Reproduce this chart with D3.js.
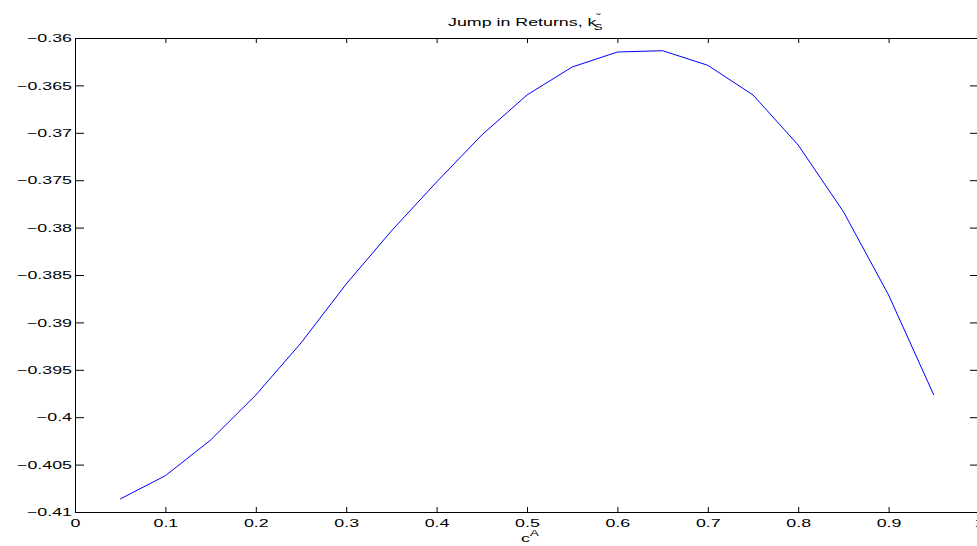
<!DOCTYPE html>
<html>
<head>
<meta charset="utf-8">
<script src="https://cdn.jsdelivr.net/npm/d3@7"></script>
<style>
  html, body { margin: 0; padding: 0; background: #fff; overflow: hidden; }
  svg { display: block; }
  text { font-family: "Liberation Sans", Arial, Helvetica, sans-serif; fill: #000; }
</style>
</head>
<body>
<svg id="chart" width="977" height="546"></svg>
<script>
// ---- data ----
const cA = [0.05, 0.10, 0.15, 0.20, 0.25, 0.30, 0.35, 0.40, 0.45, 0.50,
            0.55, 0.60, 0.65, 0.70, 0.75, 0.80, 0.85, 0.90, 0.95];
const jumpReturns = [-0.40863, -0.40617, -0.40241, -0.39766, -0.39217, -0.38595, -0.38035, -0.37519, -0.37023, -0.36601,
                     -0.36306, -0.36148, -0.36134, -0.36288, -0.36601, -0.37129, -0.37832, -0.38711, -0.39766];
const xTicks = [0, 0.1, 0.2, 0.3, 0.4, 0.5, 0.6, 0.7, 0.8, 0.9, 1];
const xTickLabels = ["0", "0.1", "0.2", "0.3", "0.4", "0.5", "0.6", "0.7", "0.8", "0.9", "1"];
const yTicks = [-0.41, -0.405, -0.40, -0.395, -0.39, -0.385, -0.38, -0.375, -0.37, -0.365, -0.36];
const yTickLabels = ["\u22120.41", "\u22120.405", "\u22120.4", "\u22120.395", "\u22120.39", "\u22120.385",
                     "\u22120.38", "\u22120.375", "\u22120.37", "\u22120.365", "\u22120.36"];
const titleText = "Jump in Returns, k";
const xLabelText = "c";

// ---- layout ----
const L = 75, R = 979, T = 38, B = 512;
const SX = 1.55;          // horizontal stretch of the lettering
const FS = 11.5;

const svg = d3.select("#chart");
const x = d3.scaleLinear().domain([0, 1]).range([L, R]);
const y = d3.scaleLinear().domain([-0.41, -0.36]).range([B, T]);

// data line
svg.append("path")
  .datum(cA.map((c, i) => [c, jumpReturns[i]]))
  .attr("fill", "none")
  .attr("stroke", "#0000ff")
  .attr("stroke-width", 1)
  .attr("d", d3.line().x(d => x(d[0])).y(d => y(d[1])));

// axes
const axB = svg.append("g").attr("transform", `translate(0,${B})`)
  .call(d3.axisBottom(x).tickValues(xTicks).tickFormat((d, i) => xTickLabels[i])
        .tickSizeInner(-5).tickSizeOuter(0).tickPadding(7));
const axT = svg.append("g").attr("transform", `translate(0,${T})`)
  .call(d3.axisTop(x).tickValues(xTicks).tickFormat("").tickSizeInner(-5).tickSizeOuter(0));
const axL = svg.append("g").attr("transform", `translate(${L},0)`)
  .call(d3.axisLeft(y).tickValues(yTicks).tickFormat((d, i) => yTickLabels[i])
        .tickSizeInner(-9).tickSizeOuter(0).tickPadding(3));
const axR = svg.append("g").attr("transform", `translate(${R},0)`)
  .call(d3.axisRight(y).tickValues(yTicks).tickFormat("").tickSizeInner(-9).tickSizeOuter(0));

[axB, axT, axL, axR].forEach(g => {
  g.select(".domain").attr("stroke", "#000").attr("stroke-width", 1);
  g.selectAll(".tick line").attr("stroke", "#000").attr("stroke-width", 1);
  g.attr("font-family", null).attr("font-size", null);
  g.selectAll("text").attr("font-size", FS).attr("fill", "#000");
});
axB.selectAll(".tick text").attr("transform", `scale(${SX},1)`);
axL.selectAll(".tick text").attr("x", -3 / SX).attr("transform", `scale(${SX},1)`);

// title
const title = svg.append("text")
  .attr("transform", `translate(448,26) scale(${SX},1)`)
  .attr("font-size", FS);
title.append("tspan").text(titleText);
title.append("tspan").attr("font-size", 8.5).attr("dy", -6).text("\u02D8");
title.append("tspan").attr("font-size", 8.5).attr("dx", -4.6).attr("dy", 10).text("S");

// x label
const xl = svg.append("text")
  .attr("transform", `translate(521,542) scale(${SX},1)`)
  .attr("font-size", FS);
xl.append("tspan").text(xLabelText);
xl.append("tspan").attr("font-size", 8.5).attr("dy", -6).text("A");
</script>
</body>
</html>
